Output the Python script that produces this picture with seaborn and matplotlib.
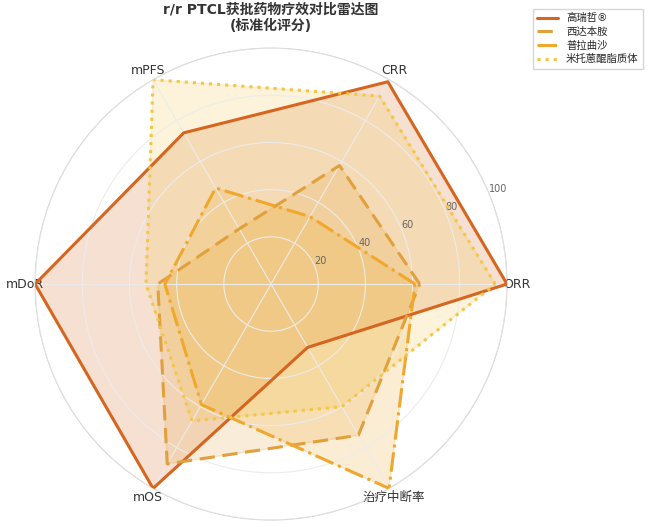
import numpy as np
import matplotlib.pyplot as plt
import seaborn as sns

# data (normalized scores)
categories = ["ORR", "CRR", "mPFS", "mDoR", "mOS", "治疗中断率"]
drugs = ["高瑞哲®", "西达本胺", "普拉曲沙", "米托蒽醌脂质体"]
gaoruizhe = [100, 99, 74, 100, 100, 31]
xidabenan = [63, 58, 27, 48, 88, 74]
pulaqusha = [61, 33, 47, 45, 59, 100]
mituo = [95, 92, 100, 53, 67, 60]
radial_ticks = [20, 40, 60, 80, 100]

series = [gaoruizhe, xidabenan, pulaqusha, mituo]
colors = ["#D5651F", "#E2A03C", "#EFA82C", "#F3C646"]
styles = ["-", (0, (5, 2.5)), "-.", ":"]

sns.set_style("white")
plt.rcParams["font.family"] = ["DejaVu Sans", "Noto Sans CJK SC"]

fig = plt.figure(figsize=(6.5, 5.27), dpi=100)
ax = fig.add_axes([0.054, 0.013, 0.726, 0.896], polar=True)

angles = np.linspace(0, 2 * np.pi, len(categories), endpoint=False)
closed = np.concatenate([angles, angles[:1]])

for name, vals, col, ls in zip(drugs, series, colors, styles):
    v = vals + vals[:1]
    ax.plot(closed, v, color=col, linestyle=ls, linewidth=2.2, label=name, zorder=3)
    ax.fill(closed, v, color=col, alpha=0.2, zorder=2)

ax.set_ylim(0, 100)
ax.set_thetagrids(np.degrees(angles), categories, fontsize=9, color="#333333")
ax.set_rticks(radial_ticks)
ax.set_yticklabels([str(t) for t in radial_ticks], fontsize=7, color="#666666")
ax.set_rlabel_position(22.5)
ax.set_axisbelow(False)
ax.grid(color="#ececec", linewidth=0.8)
ax.spines["polar"].set_color("#d0d0d0")
ax.tick_params(axis="x", pad=-3)

ax.set_title("r/r PTCL获批药物疗效对比雷达图\n(标准化评分)", fontsize=10,
             fontweight="bold", color="#333333", pad=13, linespacing=1.2)

fig.legend(loc="upper right", bbox_to_anchor=(0.997, 0.993), fontsize=7.5,
           frameon=True, edgecolor="#cccccc", fancybox=False, handlelength=2.0,
           labelspacing=0.35)

fig.savefig("out.png", dpi=100)
